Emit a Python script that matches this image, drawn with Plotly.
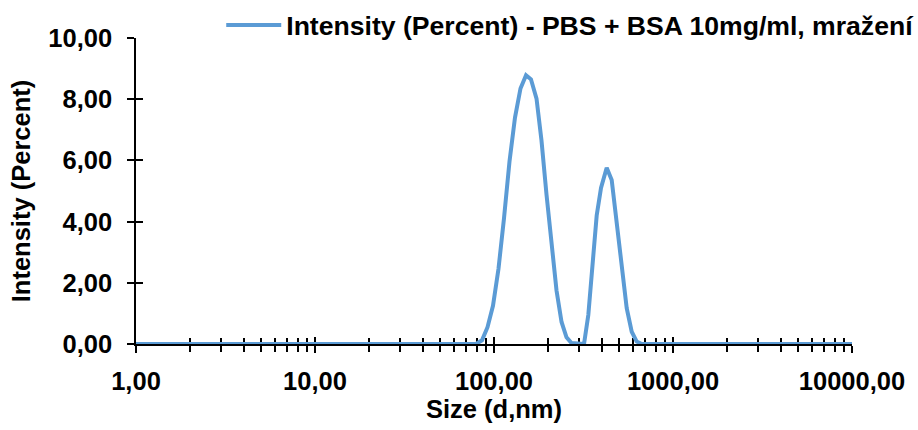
import plotly.graph_objects as go

# Size distribution by intensity
size_nm = [1.0, 79.3, 85.7, 92.0, 98.7, 105.9, 113.7, 122.1, 131.0, 140.6, 151.0,
           160.9, 172.8, 184.2, 196.5, 209.5, 223.5, 238.4, 254.1, 271.0, 294.6,
           318.3, 336.4, 355.9, 374.7, 396.1, 426.2, 454.5, 484.8, 516.9, 551.3,
           588.0, 627.0, 668.7, 10000.0]
intensity = [0, 0, 0.12, 0.55, 1.25, 2.45, 4.1, 5.97, 7.4, 8.35, 8.78,
             8.65, 8.02, 6.65, 4.88, 3.15, 1.75, 0.72, 0.22, 0.03, 0,
             0, 0.95, 2.58, 4.2, 5.1, 5.76, 5.36, 4.0, 2.47, 1.17,
             0.4, 0.08, 0, 0]

series_name = "Intensity (Percent) - PBS + BSA 10mg/ml, mražení"
x_tick_vals = [1, 10, 100, 1000, 10000]
x_tick_text = ["1,00", "10,00", "100,00", "1000,00", "10000,00"]
y_tick_vals = [0, 2, 4, 6, 8, 10]
y_tick_text = ["0,00", "2,00", "4,00", "6,00", "8,00", "10,00"]

FONT = "Liberation Sans"
BLUE = "#5B9BD5"
FS = 25.5

fig = go.Figure()
fig.add_trace(go.Scatter(x=size_nm, y=intensity, mode="lines", name=series_name,
                         line=dict(color=BLUE, width=4), xaxis="x", yaxis="y"))
# invisible twin so the overlay axes (inner half of crossing ticks) are drawn
fig.add_trace(go.Scatter(x=size_nm, y=intensity, mode="lines", showlegend=False,
                         hoverinfo="skip", line=dict(color="rgba(0,0,0,0)", width=0),
                         xaxis="x2", yaxis="y2"))

tickfont = dict(family=FONT, size=FS, color="black", weight="bold")

fig.update_layout(
    width=918, height=430,
    margin=dict(l=136, r=66, t=38, b=86, autoexpand=False),
    paper_bgcolor="white", plot_bgcolor="white",
    showlegend=True,
    legend=dict(orientation="h", xref="container", yref="container",
                x=0.241, y=0.997, xanchor="left", yanchor="top", itemwidth=55,
                font=dict(family=FONT, size=26.6, color="black", weight="bold"),
                bgcolor="rgba(0,0,0,0)"),
    xaxis=dict(type="log", range=[0, 4], tickvals=x_tick_vals, ticktext=x_tick_text,
               ticks="outside", ticklen=7, tickwidth=1.5, tickcolor="black",
               minor=dict(ticks="outside", ticklen=6, tickwidth=1.5, tickcolor="black", dtick="D1"),
               showline=True, linecolor="black", linewidth=1.5, showgrid=False,
               zeroline=False, tickfont=tickfont, ticklabelstandoff=7,
               layer="below traces", automargin=False,
               title=dict(text="Size (d,nm)", standoff=4,
                          font=dict(family=FONT, size=FS, color="black", weight="bold"))),
    yaxis=dict(range=[0, 10], tickvals=y_tick_vals, ticktext=y_tick_text,
               ticks="outside", ticklen=7, tickwidth=1.5, tickcolor="black",
               showline=True, linecolor="black", linewidth=1.5, showgrid=False,
               zeroline=False, tickfont=tickfont, ticklabelstandoff=10,
               layer="below traces", automargin=False,
               title=dict(text="Intensity (Percent)", standoff=10,
                          font=dict(family=FONT, size=FS, color="black", weight="bold"))),
    xaxis2=dict(type="log", range=[0, 4], overlaying="x", anchor="y2", side="bottom",
                tickvals=x_tick_vals, ticks="inside", ticklen=7, tickwidth=1.5,
                tickcolor="black",
                minor=dict(ticks="inside", ticklen=6, tickwidth=1.5, tickcolor="black", dtick="D1"),
                showticklabels=False, showline=False, showgrid=False, zeroline=False,
                layer="below traces", automargin=False),
    yaxis2=dict(range=[0, 10], overlaying="y", anchor="x2", side="left",
                tickvals=y_tick_vals, ticks="inside", ticklen=7, tickwidth=1.5,
                tickcolor="black", showticklabels=False, showline=False,
                showgrid=False, zeroline=False, layer="below traces", automargin=False),
)

fig.write_html("out.html")
